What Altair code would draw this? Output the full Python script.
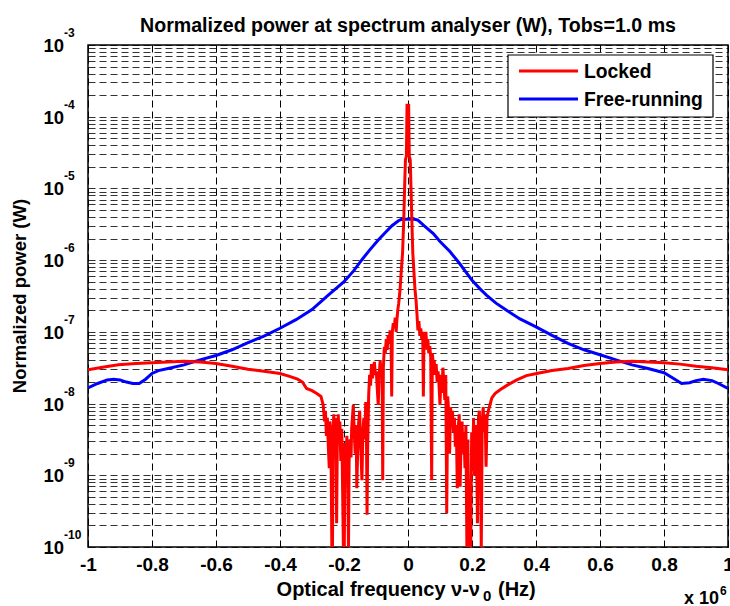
import altair as alt
import pandas as pd

# ---------------- data ----------------
# frequency offset (units of 1e6 Hz), log10 of normalized power (W)
free_running = [
    (-1.00, -7.78), (-0.97, -7.72), (-0.94, -7.67), (-0.92, -7.66), (-0.90, -7.67),
    (-0.88, -7.70), (-0.86, -7.72), (-0.84, -7.72), (-0.82, -7.66), (-0.80, -7.58),
    (-0.78, -7.54), (-0.75, -7.51), (-0.70, -7.46), (-0.65, -7.39), (-0.60, -7.33),
    (-0.55, -7.25), (-0.50, -7.15), (-0.45, -7.06), (-0.40, -6.95), (-0.35, -6.83),
    (-0.30, -6.69), (-0.25, -6.49), (-0.20, -6.30), (-0.17, -6.15), (-0.145, -6.00),
    (-0.12, -5.86), (-0.093, -5.72), (-0.07, -5.61), (-0.05, -5.52), (-0.03, -5.45),
    (-0.02, -5.43), (0.02, -5.43), (0.03, -5.44), (0.05, -5.52), (0.079, -5.63),
    (0.10, -5.74), (0.131, -5.88), (0.16, -6.04), (0.18, -6.16), (0.20, -6.28),
    (0.225, -6.40), (0.246, -6.49), (0.275, -6.60), (0.308, -6.70), (0.35, -6.82),
    (0.40, -6.93), (0.45, -7.05), (0.50, -7.16), (0.55, -7.25), (0.60, -7.32),
    (0.65, -7.39), (0.70, -7.46), (0.75, -7.51), (0.80, -7.57), (0.83, -7.65),
    (0.855, -7.72), (0.88, -7.71), (0.90, -7.68), (0.923, -7.66), (0.95, -7.68),
    (0.97, -7.72), (1.00, -7.79),
]

locked = [
    (-1.00, -7.53), (-0.95, -7.49), (-0.905, -7.46), (-0.85, -7.44), (-0.80, -7.43),
    (-0.75, -7.42), (-0.70, -7.41), (-0.65, -7.42), (-0.60, -7.44), (-0.55, -7.48),
    (-0.50, -7.52), (-0.45, -7.55), (-0.40, -7.58), (-0.37, -7.62), (-0.345, -7.66),
    (-0.33, -7.70), (-0.317, -7.79), (-0.30, -7.82), (-0.285, -7.86), (-0.272, -7.90),
    (-0.265, -8.02), (-0.261, -8.25), (-0.258, -8.10), (-0.255, -8.45), (-0.252, -8.20),
    (-0.249, -8.60), (-0.246, -8.90), (-0.244, -8.25), (-0.241, -8.40), (-0.238, -10.0),
    (-0.236, -10.0), (-0.234, -8.50), (-0.232, -8.15), (-0.230, -8.30), (-0.228, -8.70),
    (-0.226, -8.20), (-0.223, -9.67), (-0.221, -8.60), (-0.218, -8.15), (-0.216, -8.40),
    (-0.213, -8.25), (-0.210, -8.80), (-0.207, -8.35), (-0.204, -9.30), (-0.202, -10.0),
    (-0.199, -10.0), (-0.197, -8.55), (-0.194, -8.90), (-0.191, -8.45), (-0.188, -9.20),
    (-0.186, -10.0), (-0.184, -8.80), (-0.181, -8.50), (-0.178, -8.75), (-0.176, -8.35),
    (-0.173, -8.15), (-0.171, -8.02), (-0.168, -8.40), (-0.165, -8.70), (-0.162, -8.30),
    (-0.160, -9.18), (-0.157, -8.60), (-0.154, -8.25), (-0.151, -8.10), (-0.149, -8.45),
    (-0.146, -8.80), (-0.144, -9.07), (-0.141, -8.40), (-0.138, -8.20), (-0.135, -8.50),
    (-0.132, -7.98), (-0.130, -8.30), (-0.128, -9.55), (-0.126, -8.60), (-0.123, -7.90),
    (-0.120, -7.60), (-0.117, -7.75), (-0.114, -7.45), (-0.111, -7.65), (-0.108, -7.50),
    (-0.105, -7.42), (-0.102, -7.60), (-0.099, -7.55), (-0.096, -7.80), (-0.093, -8.02),
    (-0.090, -7.60), (-0.087, -7.40), (-0.084, -7.55), (-0.081, -7.45), (-0.079, -9.07),
    (-0.077, -7.50), (-0.074, -7.21), (-0.071, -7.30), (-0.068, -7.10), (-0.065, -7.25),
    (-0.062, -7.05), (-0.059, -7.15), (-0.056, -6.98), (-0.053, -7.10), (-0.051, -7.90),
    (-0.049, -7.00), (-0.046, -6.88), (-0.043, -6.95), (-0.040, -6.80), (-0.037, -7.00),
    (-0.035, -6.85), (-0.032, -6.70), (-0.029, -6.60), (-0.025, -6.42), (-0.021, -6.15),
    (-0.017, -5.90), (-0.013, -5.40), (-0.010, -4.90), (-0.008, -4.60), (-0.005, -4.55),
    (-0.003, -3.84), (0.002, -3.84), (0.004, -4.55), (0.007, -4.60), (0.010, -5.10),
    (0.013, -5.60), (0.015, -5.90), (0.019, -6.20), (0.022, -6.42), (0.025, -6.55),
    (0.028, -6.75), (0.031, -6.98), (0.034, -6.85), (0.037, -7.05), (0.040, -6.95),
    (0.043, -7.10), (0.046, -7.00), (0.048, -7.90), (0.050, -7.05), (0.053, -7.15),
    (0.056, -7.00), (0.059, -7.25), (0.062, -7.10), (0.065, -7.30), (0.068, -7.20),
    (0.071, -7.35), (0.074, -9.07), (0.076, -7.30), (0.079, -7.45), (0.082, -7.40),
    (0.085, -7.60), (0.088, -7.45), (0.091, -7.70), (0.094, -7.55), (0.097, -7.75),
    (0.100, -8.02), (0.103, -7.60), (0.106, -7.85), (0.109, -7.50), (0.112, -7.70),
    (0.115, -7.95), (0.118, -7.60), (0.121, -9.53), (0.124, -7.90), (0.127, -8.10),
    (0.130, -8.70), (0.133, -8.05), (0.136, -8.25), (0.139, -8.10), (0.142, -8.40),
    (0.145, -8.20), (0.148, -8.60), (0.151, -8.30), (0.154, -9.18), (0.157, -8.35),
    (0.160, -8.15), (0.163, -9.16), (0.166, -8.45), (0.169, -8.25), (0.172, -8.70),
    (0.175, -8.40), (0.178, -8.90), (0.181, -8.30), (0.184, -10.0), (0.187, -8.50),
    (0.190, -10.0), (0.193, -9.20), (0.196, -10.0), (0.199, -8.40), (0.202, -8.80),
    (0.205, -8.20), (0.208, -9.00), (0.211, -8.30), (0.214, -8.55), (0.217, -9.67),
    (0.220, -8.20), (0.223, -8.10), (0.226, -8.60), (0.229, -10.0), (0.232, -8.25),
    (0.235, -8.05), (0.238, -8.40), (0.241, -8.15), (0.244, -8.88), (0.247, -8.20),
    (0.251, -8.10), (0.256, -8.02), (0.262, -7.92), (0.272, -7.86), (0.29, -7.80),
    (0.308, -7.75), (0.34, -7.67), (0.37, -7.61), (0.402, -7.58), (0.45, -7.54),
    (0.50, -7.51), (0.55, -7.47), (0.60, -7.44), (0.65, -7.42), (0.70, -7.41),
    (0.75, -7.42), (0.80, -7.43), (0.85, -7.45), (0.90, -7.48), (0.95, -7.50),
    (1.00, -7.53),
]

x_ticks = [-1, -0.8, -0.6, -0.4, -0.2, 0, 0.2, 0.4, 0.6, 0.8, 1]
decade_exps = [-3, -4, -5, -6, -7, -8, -9, -10]
legend_names = ["Locked", "Free-running"]
legend_colors = ["#ff0000", "#0000ff"]
title_text = "Normalized power at spectrum analyser (W), Tobs=1.0 ms"
ytitle_text = "Normalized power (W)"
xtitle_parts = ["Optical frequency \u03bd-\u03bd", "0", "(Hz)"]
x_mult = ["x 10", "6"]

FONT = "Liberation Sans"
W, H = 640, 502

df_free = pd.DataFrame({"f": [p[0] for p in free_running],
                        "p": [10.0 ** p[1] for p in free_running]})
df_lock = pd.DataFrame({"f": [p[0] for p in locked],
                        "p": [10.0 ** p[1] for p in locked]})

# grid positions of the log axis (1..9 x each decade)
y_grid = []
for e in range(-10, -3):
    for m in range(1, 10):
        y_grid.append(m * 10.0 ** e)
y_grid.append(1e-3)

xs = alt.Scale(domain=[-1, 1], nice=False, zero=False)
ys = alt.Scale(type="log", domain=[1e-10, 1e-3], nice=False)

x_axis = alt.Axis(values=x_ticks, labelExpr="'' + datum.value", title=None,
                  grid=True, gridDash=[7, 4], gridColor="#000", gridWidth=1,
                  ticks=False, domain=False, labelFont=FONT, labelFontWeight="bold",
                  labelFontSize=19, labelColor="#000", labelPadding=8,
                  labelFlush=False, labelOverlap=False)
y_axis = alt.Axis(values=y_grid, labels=False, ticks=False, domain=False, title=None,
                  grid=True, gridDash=[7, 4], gridColor="#000", gridWidth=1,
                  gridOpacity=0.8)

blue = alt.Chart(df_free).mark_line(color=legend_colors[1], strokeWidth=3, clip=True).encode(
    x=alt.X("f:Q", scale=xs, axis=x_axis),
    y=alt.Y("p:Q", scale=ys, axis=y_axis),
)
red = alt.Chart(df_lock).mark_line(color=legend_colors[0], strokeWidth=3, clip=True).encode(
    x=alt.X("f:Q", scale=xs, axis=x_axis),
    y=alt.Y("p:Q", scale=ys, axis=y_axis),
)

dec_df = pd.DataFrame({"p": [10.0 ** e for e in decade_exps],
                       "base": ["10"] * len(decade_exps),
                       "exp": [str(e) for e in decade_exps]})
ylab_base = alt.Chart(dec_df).mark_text(
    align="right", baseline="alphabetic", dy=7, font=FONT, fontWeight="bold",
    fontSize=18.5, color="#000").encode(
    y=alt.Y("p:Q", scale=ys, axis=y_axis), x=alt.value(-24), text="base:N")
ylab_exp = alt.Chart(dec_df).mark_text(
    align="left", baseline="alphabetic", dy=-8, font=FONT, fontWeight="bold",
    fontSize=12, color="#000").encode(
    y=alt.Y("p:Q", scale=ys, axis=y_axis), x=alt.value(-24), text="exp:N")

one = pd.DataFrame({"k": [0]})

def label(txt, x, y, size, align="center", baseline="alphabetic", angle=None):
    kw = dict(align=align, baseline=baseline, font=FONT, fontWeight="bold",
              fontSize=size, color="#000")
    if angle is not None:
        kw["angle"] = angle
    return alt.Chart(one).mark_text(**kw).encode(
        x=alt.value(x), y=alt.value(y), text=alt.value(txt))

title = label(title_text, 320, -13, 19.6)
ytitle = label(ytitle_text, -68, 251, 18.5, baseline="middle", angle=270)
xt1 = label(xtitle_parts[0], 392, 551, 20, align="right")
xt2 = label(xtitle_parts[1], 395, 556, 15, align="left")
xt3 = label(xtitle_parts[2], 410, 551, 20, align="left")
xm1 = label(x_mult[0], 631, 559, 18, align="right")
xm2 = label(x_mult[1], 632, 550, 12, align="left")

# legend
leg_box = alt.Chart(one).mark_rect(fill="#fff", stroke="#000", strokeWidth=1.2).encode(
    x=alt.value(420), x2=alt.value(625), y=alt.value(10), y2=alt.value(72))
leg_layers = [leg_box]
for i, (nm, col) in enumerate(zip(legend_names, legend_colors)):
    yy = 26 + 28 * i
    leg_layers.append(alt.Chart(one).mark_rule(color=col, strokeWidth=3).encode(
        x=alt.value(431), x2=alt.value(490), y=alt.value(yy)))
    leg_layers.append(label(nm, 496, yy + 1, 19.3, align="left", baseline="middle"))

chart = alt.layer(
    blue, red, *leg_layers, ylab_base, ylab_exp, title, ytitle,
    xt1, xt2, xt3, xm1, xm2,
).properties(
    width=W, height=H,
    autosize=alt.AutoSizeParams(type="none"),
    padding={"left": 88, "top": 45, "right": 2, "bottom": 59},
    background="#ffffff",
).configure_view(stroke="#000", strokeWidth=1.5)

chart.save("out.html", embed_options={"renderer": "svg", "actions": False})
